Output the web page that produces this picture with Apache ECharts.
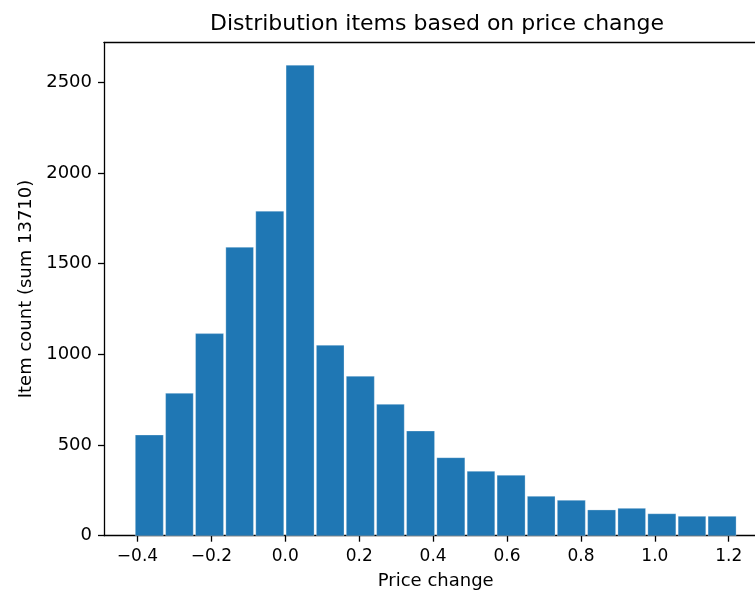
<!DOCTYPE html>
<html>
<head>
<meta charset="utf-8">
<script src="https://cdn.jsdelivr.net/npm/echarts@6/dist/echarts.min.js"></script>
<style>
  html, body { margin: 0; padding: 0; background: #fff; }
  #chart { width: 755px; height: 594px; }
</style>
</head>
<body>
<div id="chart"></div>
<script>
// ---- data ----
const chartTitle = 'Distribution items based on price change';
const xName = 'Price change';
const yName = 'Item count (sum 13710)';
const binEdges = [-0.409, -0.327, -0.246, -0.164, -0.083, -0.001, 0.081, 0.162, 0.244, 0.325,
                  0.407, 0.489, 0.570, 0.652, 0.733, 0.815, 0.897, 0.978, 1.060, 1.141, 1.223];
const counts = [555, 785, 1114, 1590, 1789, 2594, 1050, 879, 724, 577,
                430, 355, 333, 217, 195, 142, 151, 121, 107, 107];
const xTicks = [-0.4, -0.2, 0.0, 0.2, 0.4, 0.6, 0.8, 1.0, 1.2];
const yTicks = [0, 500, 1000, 1500, 2000, 2500];

// ---- chart ----
const chart = echarts.init(document.getElementById('chart'), null, { renderer: 'canvas' });
const FONT = 'DejaVu Sans';
const X_MIN = -0.4906, X_MAX = 1.3046, Y_MAX = 2720;

const barData = counts.map((c, i) => [binEdges[i], binEdges[i + 1], c]);
const fmtX = v => (v < 0 ? '\u2212' : '') + Math.abs(v).toFixed(1);

chart.setOption({
  animation: false,
  backgroundColor: '#fff',
  textStyle: { fontFamily: FONT, color: '#000' },
  title: {
    text: chartTitle,
    left: 432,
    textAlign: 'center',
    top: 8,
    textStyle: { fontFamily: FONT, fontSize: 22, fontWeight: 'normal', color: '#000' }
  },
  grid: { left: 104, top: 42.3, right: -12.4, bottom: 58.3, outerBoundsMode: 'none', containLabel: false },
  xAxis: [{
    type: 'value', min: X_MIN, max: X_MAX, position: 'bottom',
    name: xName, nameLocation: 'middle', nameGap: 37,
    nameTextStyle: { fontFamily: FONT, fontSize: 18, color: '#000' },
    axisLine: { show: true, onZero: false, lineStyle: { color: '#000', width: 1.3 } },
    axisTick: { show: true, inside: false, length: 6, customValues: xTicks, lineStyle: { color: '#000', width: 1.3 } },
    axisLabel: { show: true, customValues: xTicks, margin: 12, fontFamily: FONT, fontSize: 17, color: '#000', formatter: fmtX },
    splitLine: { show: false }
  }, {
    type: 'value', min: X_MIN, max: X_MAX, position: 'top',
    axisLine: { show: true, onZero: false, lineStyle: { color: '#000', width: 1.3 } },
    axisTick: { show: false }, axisLabel: { show: false }, splitLine: { show: false }
  }],
  yAxis: {
    type: 'value', min: 0, max: Y_MAX,
    name: yName, nameLocation: 'middle', nameGap: 64, nameRotate: 90,
    nameTextStyle: { fontFamily: FONT, fontSize: 18, color: '#000' },
    axisLine: { show: true, onZero: false, lineStyle: { color: '#000', width: 1.3 } },
    axisTick: { show: true, inside: false, length: 6, customValues: yTicks, lineStyle: { color: '#000', width: 1.3 } },
    axisLabel: { show: true, customValues: yTicks, margin: 12, fontFamily: FONT, fontSize: 18, color: '#000',
                 formatter: v => String(v) },
    splitLine: { show: false }
  },
  series: [{
    type: 'custom',
    xAxisIndex: 0,
    data: barData,
    encode: { x: [0, 1], y: 2 },
    renderItem: function (params, api) {
      const p0 = api.coord([api.value(0), 0]);
      const p1 = api.coord([api.value(1), api.value(2)]);
      const inset = 1.15;
      return {
        type: 'rect',
        shape: { x: p0[0] + inset, y: p1[1], width: p1[0] - p0[0] - 2 * inset, height: p0[1] - p1[1] },
        style: { fill: '#1f77b4', stroke: 'rgba(255,255,255,0.35)', lineWidth: 0.8 }
      };
    }
  }]
});
</script>
</body>
</html>
